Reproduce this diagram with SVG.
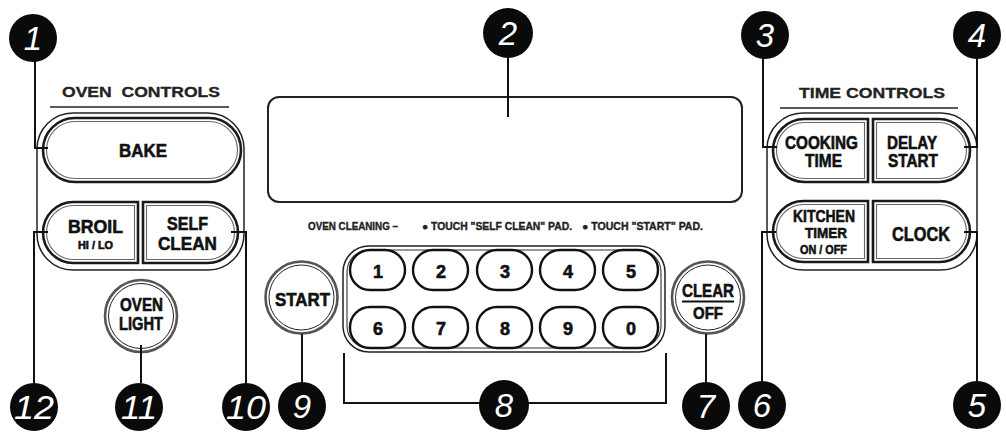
<svg xmlns="http://www.w3.org/2000/svg" width="1006" height="437" viewBox="0 0 1006 437">
<style>
.bg{fill:#fff}
.frame{fill:none;stroke:#222;stroke-width:1.5}
.btn{fill:#fff;stroke:#1a1a1a;stroke-width:2.6}
.btni{fill:none;stroke:#666;stroke-width:1.1}
.key{fill:#fff;stroke:#111;stroke-width:2.4}
.ring{fill:#fff;stroke:#555;stroke-width:2.6}
.ringi{fill:none;stroke:#222;stroke-width:1}
.lead{fill:none;stroke:#111;stroke-width:2}
.co{fill:#0a0a0a}
.cn{fill:#fff;font-family:"Liberation Sans",sans-serif;font-style:italic;font-size:33px;text-anchor:middle}
.lbl{fill:#111;stroke:#111;stroke-width:0.6;font-family:"Liberation Sans",sans-serif;font-weight:bold;text-anchor:middle}
.hdr{fill:#222;stroke:#222;stroke-width:0.3;font-family:"Liberation Sans",sans-serif;font-weight:bold;font-size:14px;text-anchor:middle}
.note{fill:#222;stroke:#222;stroke-width:0.35;font-family:"Liberation Sans",sans-serif;font-weight:bold;font-size:10px}
</style>
<rect class="bg" x="0" y="0" width="1006" height="437"/>

<g id="oven-controls">
<text class="hdr" x="141" y="97" textLength="158" lengthAdjust="spacingAndGlyphs" xml:space="preserve">OVEN  CONTROLS</text>
<line class="frame" x1="50" y1="107" x2="229" y2="107"/>
<rect class="frame" x="37" y="113" width="207" height="157" rx="36"/>
</g>

<g id="bake">
<rect class="btn" x="43" y="118" width="198" height="64" rx="32"/>
<rect class="btni" x="46.5" y="121.5" width="191" height="57" rx="28.5"/>
<text class="lbl" x="143" y="157" font-size="19" textLength="48" lengthAdjust="spacingAndGlyphs">BAKE</text>
</g>

<g id="broil">
<path class="btn" d="M73.5,202 H138 V263 H73.5 A30.5,30.5 0 0 1 73.5,202 Z"/>
<path class="btni" d="M73.5,205.5 H134.5 V259.5 H73.5 A27,27 0 0 1 73.5,205.5 Z"/>
<text class="lbl" x="95.5" y="233" font-size="19" textLength="55" lengthAdjust="spacingAndGlyphs">BROIL</text>
<text class="lbl" x="95.5" y="249" font-size="11" textLength="35" lengthAdjust="spacingAndGlyphs">HI / LO</text>
</g>

<g id="self-clean">
<path class="btn" d="M143,202 H207.5 A30.5,30.5 0 0 1 207.5,263 H143 Z"/>
<path class="btni" d="M146.5,205.5 H207.5 A27,27 0 0 1 207.5,259.5 H146.5 Z"/>
<text class="lbl" x="187.5" y="230" font-size="19" textLength="41" lengthAdjust="spacingAndGlyphs">SELF</text>
<text class="lbl" x="187.5" y="250" font-size="19" textLength="59" lengthAdjust="spacingAndGlyphs">CLEAN</text>
</g>

<g id="oven-light">
<circle class="ring" cx="141" cy="316" r="36"/>
<circle class="ringi" cx="141" cy="316" r="32.5"/>
<text class="lbl" x="141.5" y="311" font-size="18" textLength="43" lengthAdjust="spacingAndGlyphs">OVEN</text>
<text class="lbl" x="141" y="330" font-size="18" textLength="44" lengthAdjust="spacingAndGlyphs">LIGHT</text>
</g>

<g id="display">
<rect x="268" y="97" width="474" height="105" rx="11" fill="#fff" stroke="#222" stroke-width="2"/>
</g>

<g id="cleaning-note">
<text class="note" x="308" y="230" textLength="90" lengthAdjust="spacingAndGlyphs">OVEN CLEANING –</text>
<text class="note" x="422" y="230" textLength="150" lengthAdjust="spacingAndGlyphs">● TOUCH "SELF CLEAN" PAD.</text>
<text class="note" x="582" y="230" textLength="121" lengthAdjust="spacingAndGlyphs">● TOUCH "START" PAD.</text>
</g>

<g id="start">
<circle class="ring" cx="301.5" cy="297.5" r="36"/>
<circle class="ringi" cx="301.5" cy="297.5" r="32.5"/>
<text class="lbl" x="302.5" y="306" font-size="19" textLength="55" lengthAdjust="spacingAndGlyphs">START</text>
</g>

<g id="keypad">
<rect x="343" y="246" width="322" height="106" rx="26" fill="#fff" stroke="#222" stroke-width="1.5"/>
<rect x="347" y="250" width="314" height="98" rx="22" fill="none" stroke="#333" stroke-width="1.1"/>
<rect class="key" x="350" y="250" width="55" height="40" rx="20"/>
<rect class="key" x="413" y="250" width="55" height="40" rx="20"/>
<rect class="key" x="477" y="250" width="55" height="40" rx="20"/>
<rect class="key" x="540" y="250" width="55" height="40" rx="20"/>
<rect class="key" x="603" y="250" width="55" height="40" rx="20"/>
<rect class="key" x="350" y="307" width="55" height="41" rx="20"/>
<rect class="key" x="413" y="307" width="55" height="41" rx="20"/>
<rect class="key" x="477" y="307" width="55" height="41" rx="20"/>
<rect class="key" x="540" y="307" width="55" height="41" rx="20"/>
<rect class="key" x="603" y="307" width="55" height="41" rx="20"/>
<text class="lbl" font-size="18" x="378" y="278">1</text>
<text class="lbl" font-size="18" x="441" y="278">2</text>
<text class="lbl" font-size="18" x="505" y="278">3</text>
<text class="lbl" font-size="18" x="568" y="278">4</text>
<text class="lbl" font-size="18" x="631" y="278">5</text>
<text class="lbl" font-size="18" x="378" y="335">6</text>
<text class="lbl" font-size="18" x="441" y="335">7</text>
<text class="lbl" font-size="18" x="505" y="335">8</text>
<text class="lbl" font-size="18" x="568" y="335">9</text>
<text class="lbl" font-size="18" x="631" y="335">0</text>
</g>

<g id="clear-off">
<circle class="ring" cx="708" cy="297.5" r="36"/>
<circle class="ringi" cx="708" cy="297.5" r="32.5"/>
<text class="lbl" x="708" y="297" font-size="19" textLength="52" lengthAdjust="spacingAndGlyphs">CLEAR</text>
<line x1="682" y1="301.5" x2="734" y2="301.5" stroke="#111" stroke-width="2"/>
<text class="lbl" x="708" y="319" font-size="17" textLength="30" lengthAdjust="spacingAndGlyphs">OFF</text>
</g>

<g id="time-controls">
<text class="hdr" x="872" y="98" textLength="146" lengthAdjust="spacingAndGlyphs">TIME CONTROLS</text>
<line class="frame" x1="780" y1="108" x2="958" y2="108"/>
<rect class="frame" x="767" y="113" width="210" height="157" rx="36"/>
</g>

<g id="cooking-time">
<path class="btn" d="M804.5,119 H868 V182 H804.5 A31.5,31.5 0 0 1 804.5,119 Z"/>
<path class="btni" d="M804.5,122.5 H864.5 V178.5 H804.5 A28,28 0 0 1 804.5,122.5 Z"/>
<text class="lbl" x="821.5" y="149" font-size="18" textLength="73" lengthAdjust="spacingAndGlyphs">COOKING</text>
<text class="lbl" x="823.5" y="167" font-size="18" textLength="37" lengthAdjust="spacingAndGlyphs">TIME</text>
</g>

<g id="delay-start">
<path class="btn" d="M873,119 H938.5 A31.5,31.5 0 0 1 938.5,182 H873 Z"/>
<path class="btni" d="M876.5,122.5 H938.5 A28,28 0 0 1 938.5,178.5 H876.5 Z"/>
<text class="lbl" x="912" y="149" font-size="18" textLength="50" lengthAdjust="spacingAndGlyphs">DELAY</text>
<text class="lbl" x="913" y="167" font-size="18" textLength="50" lengthAdjust="spacingAndGlyphs">START</text>
</g>

<g id="kitchen-timer">
<path class="btn" d="M803.5,201 H868 V262 H803.5 A30.5,30.5 0 0 1 803.5,201 Z"/>
<path class="btni" d="M803.5,204.5 H864.5 V258.5 H803.5 A27,27 0 0 1 803.5,204.5 Z"/>
<text class="lbl" x="824" y="222" font-size="16.5" textLength="62" lengthAdjust="spacingAndGlyphs">KITCHEN</text>
<text class="lbl" x="826" y="238" font-size="15.5" textLength="42" lengthAdjust="spacingAndGlyphs">TIMER</text>
<text class="lbl" x="823.5" y="254" font-size="12.5" textLength="47" lengthAdjust="spacingAndGlyphs">ON / OFF</text>
</g>

<g id="clock">
<path class="btn" d="M873,201 H939.5 A30.5,30.5 0 0 1 939.5,262 H873 Z"/>
<path class="btni" d="M876.5,204.5 H939.5 A27,27 0 0 1 939.5,258.5 H876.5 Z"/>
<text class="lbl" x="921" y="241" font-size="20" textLength="58" lengthAdjust="spacingAndGlyphs">CLOCK</text>
</g>

<g id="connectors">
<polyline class="lead" points="35,60 35,148 48,148"/>
<polyline class="lead" points="508,57 508,117"/>
<polyline class="lead" points="763,58 763,147 777,147"/>
<polyline class="lead" points="977,58 977,147 964,147"/>
<polyline class="lead" points="977,382 977,232 964,232"/>
<polyline class="lead" points="762,382 762,232 776,232"/>
<polyline class="lead" points="706,382 706,334"/>
<polyline class="lead" points="344,353 344,403 480,403"/>
<polyline class="lead" points="528,403 666,403 666,353"/>
<polyline class="lead" points="302,382 302,334"/>
<polyline class="lead" points="246,383 246,232 231,232"/>
<polyline class="lead" points="141,383 141,345"/>
<polyline class="lead" points="34,383 34,232 48,232"/>
</g>

<g id="callout-1"><circle class="co" cx="33" cy="38" r="24"/><text class="cn" x="33" y="50">1</text></g>
<g id="callout-2"><circle class="co" cx="508" cy="33" r="25"/><text class="cn" x="508" y="45">2</text></g>
<g id="callout-3"><circle class="co" cx="765" cy="35" r="24"/><text class="cn" x="765" y="47">3</text></g>
<g id="callout-4"><circle class="co" cx="977" cy="35" r="24"/><text class="cn" x="977" y="47">4</text></g>
<g id="callout-5"><circle class="co" cx="977" cy="405" r="24"/><text class="cn" x="977" y="417">5</text></g>
<g id="callout-6"><circle class="co" cx="762" cy="405" r="24"/><text class="cn" x="762" y="417">6</text></g>
<g id="callout-7"><circle class="co" cx="706" cy="406" r="24"/><text class="cn" x="706" y="418">7</text></g>
<g id="callout-8"><circle class="co" cx="504" cy="405" r="25"/><text class="cn" x="504" y="417">8</text></g>
<g id="callout-9"><circle class="co" cx="302" cy="406" r="24"/><text class="cn" x="302" y="418">9</text></g>
<g id="callout-10"><circle class="co" cx="246" cy="407" r="24"/><text class="cn" x="246" y="419" textLength="40" lengthAdjust="spacingAndGlyphs">10</text></g>
<g id="callout-11"><circle class="co" cx="139" cy="407" r="24"/><text class="cn" x="139" y="419" textLength="36" lengthAdjust="spacingAndGlyphs">11</text></g>
<g id="callout-12"><circle class="co" cx="34" cy="407" r="24"/><text class="cn" x="34" y="419" textLength="40" lengthAdjust="spacingAndGlyphs">12</text></g>
</svg>
